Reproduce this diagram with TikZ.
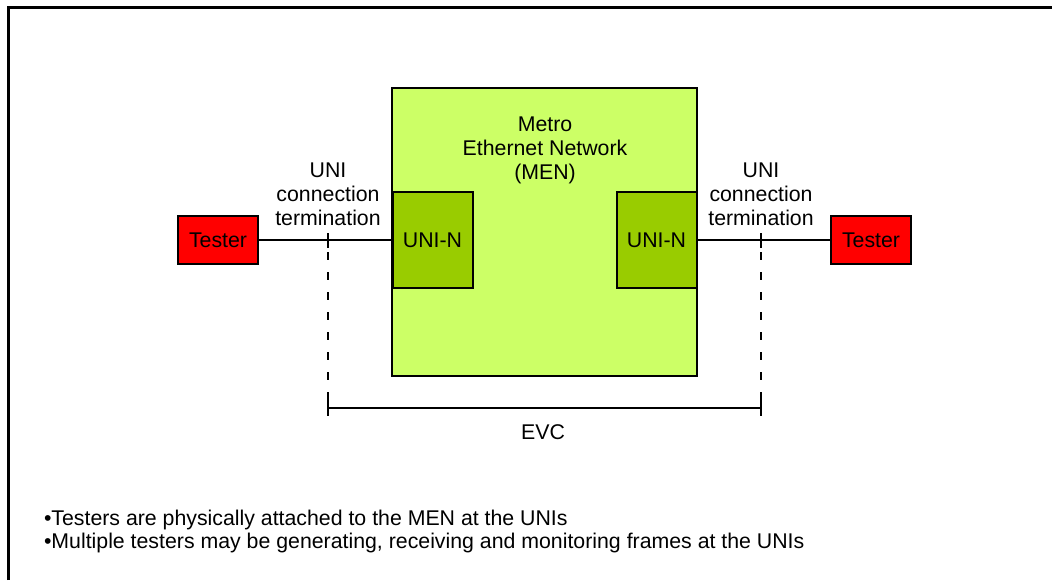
\documentclass[tikz,border=0pt]{standalone}
\usepackage{fontspec}
\setmainfont{Liberation Sans}
\usepackage{tikz}
\usetikzlibrary{calc}
\definecolor{menfill}{HTML}{CCFF66}
\definecolor{unifill}{HTML}{99CC00}
\tikzset{
  txt/.style={font=\fontsize{10.65}{12}\selectfont, inner sep=0pt, align=center},
  box/.style={draw, line width=1pt, inner sep=0pt, font=\fontsize{10.65}{12}\selectfont},
  tester/.style={box, fill=red, minimum width=40pt, minimum height=24pt},
  unin/.style={box, fill=unifill, minimum width=40pt, minimum height=48pt},
}
\begin{document}
\begin{tikzpicture}[x=0.5pt,y=-0.5pt,line width=1pt]
  \useasboundingbox (0,0) rectangle (1052,580);
  \draw[line width=1.25pt] (8.5,580)--(8.5,7.5)--(1052,7.5);
  \node[box,fill=menfill,minimum width=152.5pt,minimum height=144pt] (men) at (544.5,232) {};
  \node[txt] (menlbl) at (545,150) {Metro\\Ethernet Network\\(MEN)};
  \node[unin] (unil) at (432.5,240) {UNI-N};
  \node[unin] (unir) at (656.5,240) {UNI-N};
  \node[tester] (testl) at (218,240) {Tester};
  \node[tester] (testr) at (871,240) {Tester};
  \draw (testl.east)--(unil.west);
  \draw (unir.east)--(testr.west);
  % termination points and the EVC
  \coordinate (cl) at (328,240);
  \coordinate (cr) at (761,240);
  \coordinate (evcl) at (328,408);
  \coordinate (evcr) at (761,408);
  \draw ($(cl)+(0,-7)$)--($(cl)+(0,8)$);
  \draw ($(cr)+(0,-7)$)--($(cr)+(0,8)$);
  \draw[dash pattern=on 4pt off 6pt] ($(cl)+(0,12)$)--($(evcl)+(0,-8)$);
  \draw[dash pattern=on 4pt off 6pt] ($(cr)+(0,12)$)--($(evcr)+(0,-8)$);
  \draw (evcl)--(evcr);
  \draw ($(evcl)+(0,-8)$)--($(evcl)+(0,8)$);
  \draw ($(evcr)+(0,-8)$)--($(evcr)+(0,8)$);
  \node[txt] (termlbll) at (328,194) {UNI\\connection\\termination};
  \node[txt] (termlblr) at (761,194) {UNI\\connection\\termination};
  \node[txt] (evc) at (543,432) {EVC};
  \node[txt,anchor=base west] (note1) at (43,525) {•Testers are physically attached to the MEN at the UNIs};
  \node[txt,anchor=base west] (note2) at (43,548) {•Multiple testers may be generating, receiving and monitoring frames at the UNIs};
\end{tikzpicture}
\end{document}
